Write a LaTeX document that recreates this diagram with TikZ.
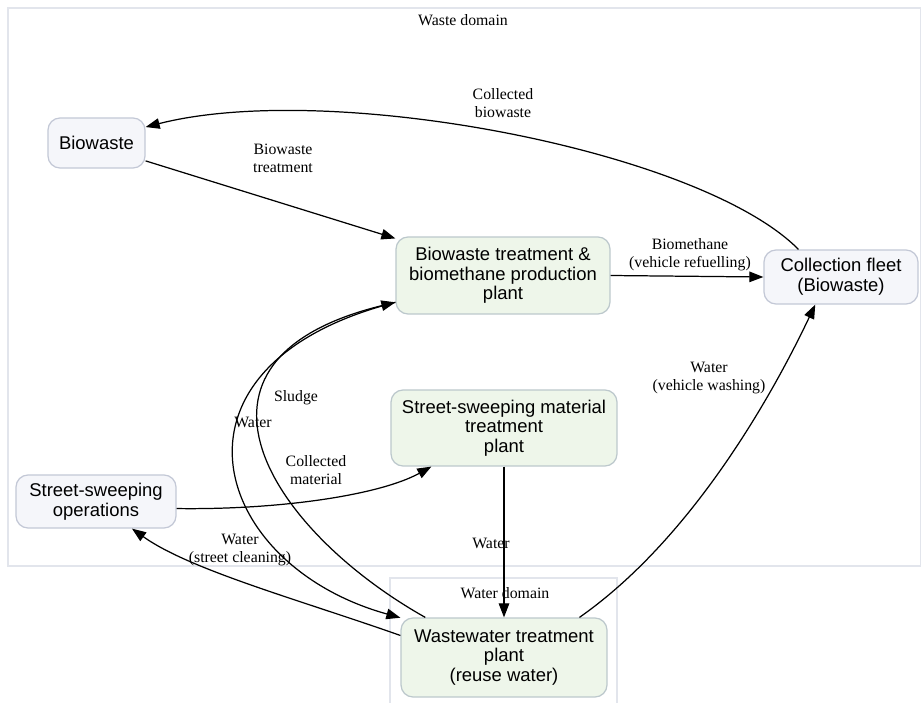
\documentclass[tikz,border=0pt]{standalone}
\usepackage{fontspec}
\setmainfont{Liberation Serif}
\newfontfamily\boxfont{Liberation Sans}
\usetikzlibrary{arrows.meta}
\definecolor{boxfill}{HTML}{F5F6FA}
\definecolor{boxline}{HTML}{C3C8D6}
\definecolor{plantfill}{HTML}{EEF6EA}
\definecolor{plantline}{HTML}{BCC8CC}
\definecolor{clusterline}{HTML}{E2E5EC}

\begin{document}
\begin{tikzpicture}[x=0.02cm,y=-0.02cm,
    >={Triangle[length=8pt,width=6pt]},
    flow/.style={->,line width=0.7pt},
    lbl/.style={font=\fontsize{9}{10.2}\selectfont,align=center,inner sep=1pt},
    cluster/.style={draw=clusterline,line width=0.8pt},
    wastebox/.style={draw=boxline,fill=boxfill,line width=0.7pt,rounded corners=0.24cm,align=center,inner sep=0pt,font=\boxfont\fontsize{10.5}{11.2}\selectfont},
    plantbox/.style={wastebox,draw=plantline,fill=plantfill}]
    \useasboundingbox (0,0) rectangle (921,703);
    \fill[white] (0,0) rectangle (921,703);

    \draw[cluster](8,8) rectangle (921,566);
    \draw[cluster](390,578) rectangle (617,710);
    \node[lbl] (wastedom) at (463,20) {Waste domain};
    \node[lbl] (waterdom) at (505,593) {Water domain};

    \node[wastebox,minimum width=1.94cm,minimum height=1cm] (biowaste) at (96.5,143) {Biowaste};
    \node[plantbox,minimum width=4.28cm,minimum height=1.54cm] (plant) at (503,275.5) {Biowaste treatment \&\\biomethane production\\plant};
    \node[wastebox,minimum width=3.08cm,minimum height=1.08cm] (fleet) at (841,277) {Collection fleet\\(Biowaste)};
    \node[plantbox,minimum width=4.52cm,minimum height=1.52cm] (ssm) at (504,428) {Street-sweeping material\\treatment\\plant};
    \node[wastebox,minimum width=3.2cm,minimum height=1.06cm] (street) at (96,501.5) {Street-sweeping\\operations};
    \node[plantbox,minimum width=4.12cm,minimum height=1.58cm] (wwtp) at (504,657.5) {Wastewater treatment\\plant\\(reuse water)};

    \draw[flow](fleet.147) .. controls (700,150) and (330,80) .. (biowaste.18);
    \node[lbl] (lcollbio) at (503,103) {Collected\\biowaste};

    \draw[flow](biowaste.-20)--(plant.161);
    \node[lbl] (lbiotreat) at (283,158) {Biowaste\\treatment};

    \draw[flow](plant.east)--(fleet.west);
    \node[lbl] (lbiometh) at (690,255) {Biomethane\\(vehicle refuelling)};

    \draw[flow](plant.-166) .. controls (150,365) and (210,565) .. (wwtp.159);
    \node[lbl] (lwater1) at (253,422) {Water};
    \draw[flow](wwtp.153) .. controls (270,530) and (160,360) .. (plant.-166);
    \node[lbl] (lsludge) at (296,398) {Sludge};

    \draw[flow](street.-5) .. controls (280,510) and (380,495) .. (ssm.-152);
    \node[lbl] (lcollmat) at (316,470) {Collected\\material};

    \draw[flow](wwtp.168) .. controls (300,600) and (190,570) .. (street.-37);
    \node[lbl] (lstreet) at (240,550) {Water\\(street cleaning)};

    \draw[flow](ssm.south)--(wwtp.north);
    \node[lbl] (lwater2) at (491,543) {Water};

    \draw[flow](wwtp.28) .. controls (690,540) and (770,400) .. (fleet.-133);
    \node[lbl] (lwash) at (709,378) {Water\\(vehicle washing)};
\end{tikzpicture}
\end{document}
